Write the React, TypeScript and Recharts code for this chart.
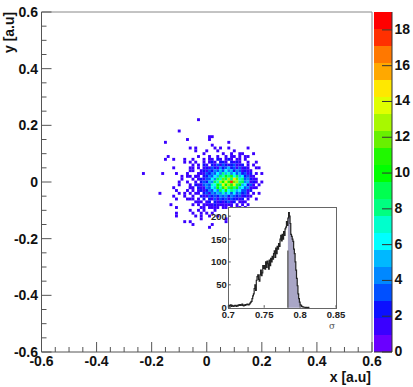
import { BarChart, Bar, ScatterChart, Scatter, ComposedChart, Area, Line, XAxis, YAxis, ReferenceLine } from 'recharts'

const FONT = '"Liberation Sans", Arial, sans-serif'

// colour levels of the palette, bottom to top of the z scale
const levelColors = [
  '#6a00ff', '#3a00ff', '#0c10ff', '#0050ff', '#0088ff', '#00b8ff', '#00ffff', '#00ffcc', '#00ff80', '#00ff50',
  '#00ff00', '#20f800', '#68f000', '#a8f800', '#e0ff00', '#ffe800', '#ffa800', '#ff7800', '#ff3000', '#ff0000',
]
const levelStep = 0.95
const zTicks = [0, 2, 4, 6, 8, 10, 12, 14, 16, 18]

const xTicks = [-0.6, -0.55, -0.5, -0.45, -0.4, -0.35, -0.3, -0.25, -0.2, -0.15, -0.1, -0.05, 0, 0.05, 0.1, 0.15, 0.2, 0.25, 0.3, 0.35, 0.4, 0.45, 0.5, 0.55, 0.6]
const majorTicks = [-0.6, -0.4, -0.2, 0, 0.2, 0.4, 0.6]

// dense part of the blob: x runs from -0.09 in 0.01 steps, one row per y value
const denseYs = [0.09, 0.08, 0.07, 0.06, 0.05, 0.04, 0.03, 0.02, 0.01, 0, -0.01, -0.02, -0.03, -0.04, -0.05, -0.06, -0.07, -0.08, -0.09]
const denseX0 = -0.09
const denseCounts = [
  [0, 0, 0, 0, 0, 0, 0, 0, 0, 0, 1, 0, 0, 1, 0, 0, 1, 0, 1, 1, 0, 1, 0, 0, 1, 0, 0, 0, 0, 0],
  [0, 0, 0, 0, 0, 0, 0, 0, 1, 0, 1, 1, 0, 2, 1, 0, 1, 2, 1, 0, 1, 1, 0, 1, 0, 0, 0, 0, 0, 0],
  [0, 0, 0, 0, 0, 1, 0, 0, 1, 0, 1, 2, 1, 0, 2, 2, 1, 0, 2, 1, 2, 1, 0, 0, 1, 0, 0, 1, 0, 0],
  [0, 0, 0, 0, 1, 0, 1, 0, 2, 1, 0, 2, 1, 3, 1, 3, 2, 1, 2, 3, 1, 1, 2, 0, 1, 0, 1, 0, 0, 0],
  [0, 0, 0, 1, 0, 0, 1, 0, 1, 2, 1, 3, 2, 1, 4, 2, 3, 5, 2, 3, 1, 3, 1, 2, 1, 0, 0, 1, 0, 0],
  [0, 0, 0, 0, 1, 0, 0, 1, 2, 1, 3, 2, 4, 3, 5, 3, 6, 4, 5, 2, 4, 3, 1, 2, 1, 1, 0, 0, 0, 0],
  [0, 0, 1, 0, 0, 0, 1, 1, 1, 3, 2, 4, 3, 6, 4, 8, 5, 7, 4, 6, 3, 5, 2, 3, 1, 2, 0, 1, 0, 1],
  [0, 0, 0, 1, 0, 1, 1, 0, 2, 2, 4, 3, 6, 5, 9, 7, 10, 8, 11, 6, 9, 5, 6, 2, 3, 1, 1, 0, 0, 0],
  [1, 0, 0, 0, 1, 0, 1, 2, 1, 3, 3, 6, 4, 9, 7, 12, 9, 13, 8, 15, 12, 7, 8, 3, 4, 2, 1, 1, 0, 0],
  [0, 0, 1, 0, 0, 1, 0, 2, 3, 2, 5, 4, 9, 7, 13, 10, 14, 11, 18, 12, 13, 8, 9, 4, 5, 1, 2, 1, 0, 1],
  [0, 0, 0, 1, 0, 2, 1, 1, 3, 4, 3, 7, 6, 10, 8, 14, 10, 13, 11, 14, 9, 10, 5, 6, 2, 3, 1, 0, 1, 0],
  [0, 0, 0, 1, 1, 0, 2, 1, 1, 4, 3, 6, 5, 10, 7, 11, 13, 9, 11, 8, 10, 5, 6, 3, 4, 1, 1, 1, 0, 0],
  [0, 0, 0, 0, 1, 0, 1, 2, 1, 2, 4, 3, 6, 4, 9, 6, 10, 6, 8, 7, 5, 6, 3, 3, 1, 2, 0, 0, 0, 0],
  [0, 1, 0, 1, 0, 1, 1, 0, 2, 3, 1, 4, 3, 5, 4, 7, 4, 6, 3, 6, 3, 4, 2, 3, 1, 0, 1, 0, 1, 0],
  [0, 0, 0, 0, 1, 0, 0, 2, 1, 1, 3, 2, 3, 2, 4, 3, 4, 2, 4, 3, 2, 3, 1, 2, 1, 1, 0, 0, 0, 0],
  [0, 0, 0, 1, 1, 0, 1, 0, 2, 0, 2, 1, 3, 1, 3, 2, 3, 1, 3, 2, 2, 1, 2, 0, 1, 0, 0, 1, 0, 0],
  [0, 0, 0, 0, 0, 1, 0, 1, 0, 1, 2, 0, 2, 1, 2, 1, 2, 3, 1, 2, 0, 1, 1, 1, 0, 0, 0, 0, 0, 0],
  [0, 0, 0, 0, 1, 0, 1, 0, 1, 1, 1, 1, 2, 1, 1, 1, 1, 1, 1, 0, 1, 0, 1, 0, 1, 0, 0, 0, 0, 0],
  [0, 0, 0, 0, 0, 0, 0, 1, 1, 0, 1, 1, 1, 1, 0, 1, 1, 0, 1, 0, 1, 1, 0, 1, 0, 0, 0, 0, 0, 0],
]

// single entries scattered around the blob
const sparseXs = [-0.1, -0.07, -0.15, 0.01, 0.02, 0.01, 0.02, 0.08, 0.05, -0.04, -0.06, -0.04, 0, 0.04, 0.08, -0.03, -0.14, -0.15, -0.12, -0.08, -0.08, -0.06, -0.12, -0.11, -0.09, -0.1, -0.1, -0.12, -0.11, -0.12, -0.11, -0.1, -0.08, -0.07, -0.23, -0.16, -0.17, -0.13, -0.11, -0.11, -0.11, -0.08, -0.05, -0.06, 0.01, 0.02, 0.07, 0.07, -0.04, -0.02, -0.02, 0.15, 0.19, 0.17, 0.1, 0.13, -0.07, -0.06, -0.05, -0.04, -0.07, -0.06, -0.03, -0.06, -0.05, -0.03, -0.02, -0.01, 0, 0.01, 0.02, 0.03, -0.05, -0.03, -0.01, 0.03, 0.06, 0.09, 0.12, 0.14, 0.04]
const sparseYs = [0.18, 0.15, 0.14, 0.16, 0.16, 0.15, 0.13, 0.14, 0.12, 0.12, 0.12, 0.11, 0.11, 0.11, 0.12, 0.22, 0.09, 0.08, 0.08, 0.08, 0.07, 0.07, 0.05, 0.03, 0.02, 0, -0.01, -0.02, -0.03, -0.05, -0.06, -0.04, -0.05, -0.06, 0.03, 0.03, -0.04, -0.08, -0.09, -0.12, -0.11, -0.14, -0.15, -0.14, -0.16, -0.15, -0.14, -0.13, -0.12, -0.12, -0.13, 0.12, 0.05, 0.1, 0.11, 0.1, 0.02, -0.02, 0.05, 0.02, -0.03, 0.04, -0.07, -0.1, -0.11, -0.1, -0.11, -0.1, -0.11, -0.12, -0.11, -0.1, 0.08, 0.09, 0.1, 0.12, 0.1, 0.1, 0.1, 0.09, -0.12]

// inset histogram, one value per 0.001 of sigma starting at 0.7
const sigmaStart = 0.7
const sigmaCounts = [
  3, 5, 4, 6, 3, 5, 4, 3, 4, 5,
  4, 3, 5, 4, 6, 5, 7, 5, 6, 8,
  5, 4, 6, 5, 7, 6, 8, 7, 6, 8,
  10, 12, 14, 20, 26, 30, 42, 50, 38, 60,
  68, 72, 62, 58, 72, 82, 70, 76, 92, 86,
  92, 84, 100, 88, 102, 96, 84, 104, 92, 108,
  100, 112, 106, 118, 124, 110, 130, 118, 134, 128,
  140, 134, 150, 158, 146, 160, 150, 166, 158, 172,
  176, 188, 180, 196, 208, 200, 184, 160, 156, 150,
  145, 128, 118, 100, 82, 64, 48, 30, 20, 12,
  6, 5, 3, 2, 2, 1, 1, 0, 1, 0,
  0, 1, 0, 0,
]
const shadeFrom = 0.783
const shadeTo = 0.801
const shadeEdge = 125
const insetXTicks = [0.7, 0.75, 0.8, 0.85]
const insetYTicks = [0, 50, 100, 150, 200]

const levelOf = (count: number) => Math.min(levelColors.length - 1, Math.floor(count / levelStep))

const heatCells: { x: number; y: number; count: number }[] = []
denseCounts.forEach((row, r) => {
  row.forEach((count, c) => {
    if (count > 0) heatCells.push({ x: denseX0 + c * 0.01, y: denseYs[r], count })
  })
})
sparseXs.forEach((x, i) => heatCells.push({ x, y: sparseYs[i], count: 1 }))

const colorRow: Record<string, number | string> = { name: 'z' }
levelColors.forEach((_, i) => {
  colorRow[`l${i}`] = levelStep
})

const sigmaRows = sigmaCounts.map((count, i) => {
  const sigma = Number((sigmaStart + i * 0.001).toFixed(3))
  return { sigma, count, shade: sigma >= shadeFrom && sigma <= shadeTo ? Math.max(count, 0) : null }
})

const isMajor = (v: number) => majorTicks.some((t) => Math.abs(t - v) < 1e-6)
const axisGray = '#555'
const labelStyle = { fontFamily: FONT, fontWeight: 700, fontSize: 14, fill: '#111' }

function HeatCell(props: any) {
  const { cx, cy, payload } = props
  return <rect x={cx - 1.45} y={cy - 1.45} width={2.9} height={2.9} fill={levelColors[levelOf(payload.count)]} />
}

function XTick({ x, y, payload }: any) {
  const major = isMajor(payload.value)
  return (
    <g>
      <line x1={x} x2={x} y1={y} y2={y - (major ? 10 : 5)} stroke={axisGray} />
      {major && (
        <text x={x} y={y + 14} textAnchor="middle" {...labelStyle}>
          {payload.value}
        </text>
      )}
    </g>
  )
}

function YTick({ x, y, payload }: any) {
  const major = isMajor(payload.value)
  return (
    <g>
      <line x1={x} x2={x + (major ? 10 : 5)} y1={y} y2={y} stroke={axisGray} />
      {major && (
        <text x={x - 3.5} y={y + 5} textAnchor="end" {...labelStyle}>
          {payload.value}
        </text>
      )}
    </g>
  )
}

function ZTick({ x, y, payload }: any) {
  return (
    <g>
      <line x1={x} x2={x - 10} y1={y} y2={y} stroke="#333" />
      <text x={x + 2.5} y={y + 4} textAnchor="start" {...labelStyle}>
        {payload.value}
      </text>
    </g>
  )
}

function InsetXTick({ x, y, payload }: any) {
  return (
    <g>
      <line x1={x} x2={x} y1={y} y2={y - 2.5} stroke="#555" />
      <text x={x} y={y + 10} textAnchor="middle" fontFamily={FONT} fontWeight={700} fontSize={9.5} fill="#222">
        {payload.value}
      </text>
    </g>
  )
}

function InsetYTick({ x, y, payload }: any) {
  return (
    <g>
      <line x1={x} x2={x + 2.5} y1={y} y2={y} stroke="#555" />
      <text x={x - 1.5} y={y + 3.5} textAnchor="end" fontFamily={FONT} fontWeight={700} fontSize={9.5} fill="#222">
        {payload.value}
      </text>
    </g>
  )
}

export default function App() {
  return (
    <div style={{ position: 'absolute', left: 0, top: 0, width: 413, height: 387, background: '#fff', overflow: 'hidden' }}>
      <div style={{ position: 'absolute', left: 0, top: 0 }}>
        <ScatterChart width={413} height={387} margin={{ top: 12, right: 41, bottom: 34, left: 40.5 }}>
          <XAxis
            type="number"
            dataKey="x"
            domain={[-0.6, 0.6]}
            ticks={xTicks}
            interval={0}
            height={1}
            tickSize={0}
            tickMargin={0}
            tickLine={false}
            stroke={axisGray}
            allowDataOverflow
            tick={<XTick />}
          />
          <YAxis
            type="number"
            dataKey="y"
            domain={[-0.6, 0.6]}
            ticks={xTicks}
            interval={0}
            width={1}
            tickSize={0}
            tickMargin={0}
            tickLine={false}
            stroke={axisGray}
            allowDataOverflow
            tick={<YTick />}
          />
          <ReferenceLine x={0.6} stroke="#888" />
          <ReferenceLine y={0.6} stroke="#888" />
          <Scatter data={heatCells} isAnimationActive={false} shape={<HeatCell />} />
          <text x={371} y={382} textAnchor="end" {...labelStyle}>
            x [a.u]
          </text>
          <text transform="translate(14,53) rotate(-90)" textAnchor="start" {...labelStyle}>
            y [a.u]
          </text>
        </ScatterChart>
      </div>

      <div style={{ position: 'absolute', left: 374, top: 0 }}>
        <BarChart width={39} height={387} data={[colorRow]} margin={{ top: 12, right: 20, bottom: 34, left: 0 }} barCategoryGap={0}>
          <XAxis dataKey="name" height={1} tick={false} tickLine={false} stroke="#333" />
          <YAxis
            orientation="right"
            type="number"
            domain={[0, 19]}
            ticks={zTicks}
            interval={0}
            width={1}
            tickSize={0}
            tickMargin={0}
            tickLine={false}
            stroke="#333"
            tick={<ZTick />}
          />
          {levelColors.map((color, i) => (
            <Bar key={color} dataKey={`l${i}`} stackId="z" fill={color} isAnimationActive={false} />
          ))}
        </BarChart>
      </div>

      <div style={{ position: 'absolute', left: 228, top: 207, width: 107, height: 100, background: '#fff', border: '1px solid #666' }} />
      <div style={{ position: 'absolute', left: 195, top: 195 }}>
        <ComposedChart width={160} height={135} data={sigmaRows} margin={{ top: 12, right: 19, bottom: 21.3, left: 32.3 }}>
          <XAxis
            type="number"
            dataKey="sigma"
            domain={[0.7, 0.85]}
            ticks={insetXTicks}
            interval={0}
            height={1}
            tickSize={0}
            tickMargin={0}
            tickLine={false}
            axisLine={false}
            tick={<InsetXTick />}
          />
          <YAxis
            type="number"
            domain={[0, 220]}
            ticks={insetYTicks}
            interval={0}
            width={1}
            tickSize={0}
            tickMargin={0}
            tickLine={false}
            axisLine={false}
            tick={<InsetYTick />}
          />
          <Area dataKey="shade" type="stepAfter" fill="#a9a6c6" fillOpacity={1} stroke="none" isAnimationActive={false} connectNulls={false} dot={false} activeDot={false} />
          <ReferenceLine segment={[{ x: shadeFrom, y: 0 }, { x: shadeFrom, y: shadeEdge }]} stroke="#666" strokeWidth={1.5} />
          <Line dataKey="count" type="stepAfter" stroke="#222" strokeWidth={1.2} dot={false} activeDot={false} isAnimationActive={false} />
          <text x={137} y={134} textAnchor="middle" fontFamily='"DejaVu Serif", serif' fontSize={9} fill="#555">
            σ
          </text>
        </ComposedChart>
      </div>
    </div>
  )
}
